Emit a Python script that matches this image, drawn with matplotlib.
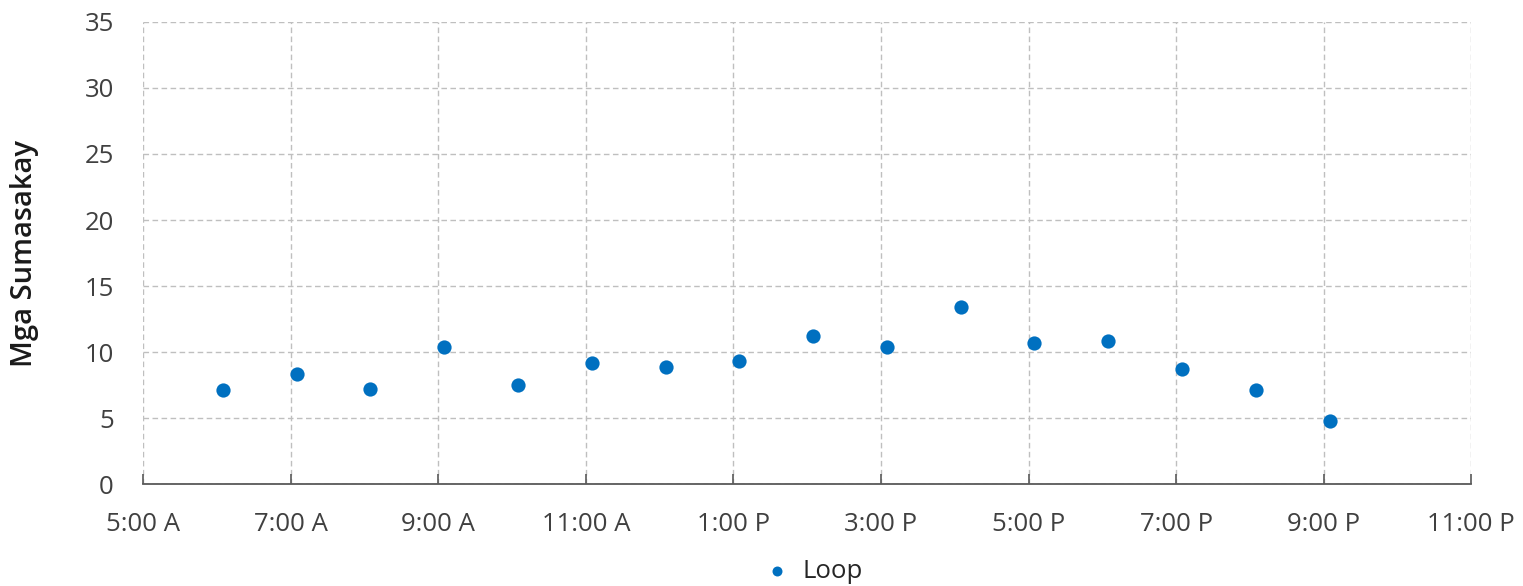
import matplotlib.pyplot as plt
import numpy as np

# --- Data ---
hours = [6.08, 7.08, 8.08, 9.08, 10.08, 11.08, 12.08, 13.08,
         14.08, 15.08, 16.08, 17.08, 18.08, 19.08, 20.08, 21.08]
riders = [7.1, 8.3, 7.2, 10.4, 7.5, 9.2, 8.9, 9.3,
          11.2, 10.4, 13.4, 10.7, 10.8, 8.7, 7.1, 4.8]
tick_hours = [5, 7, 9, 11, 13, 15, 17, 19, 21, 23]
tick_labels = ["5:00 A", "7:00 A", "9:00 A", "11:00 A", "1:00 P",
               "3:00 P", "5:00 P", "7:00 P", "9:00 P", "11:00 P"]
series_name = "Loop"

plt.rcParams["font.family"] = ["Open Sans", "DejaVu Sans"]

fig, ax = plt.subplots(figsize=(15.23, 5.86), dpi=100)
plt.subplots_adjust(left=0.094, right=0.966, top=0.9625, bottom=0.174)

ax.scatter(hours, riders, s=105, color="#0070C0", label=series_name, zorder=3,
           linewidths=0)

ax.set_xlim(5, 23)
ax.set_ylim(0, 35)
ax.set_xticks(tick_hours)
ax.set_xticklabels(tick_labels)
ax.set_yticks(np.arange(0, 36, 5))

# --- Grid ---
ax.grid(True, linestyle=(0, (4, 2.5)), color="#BFBFBF", linewidth=1.0)
ax.set_axisbelow(True)

for side in ["top", "right", "left"]:
    ax.spines[side].set_visible(False)
ax.spines["bottom"].set_color("#595959")
ax.spines["bottom"].set_linewidth(1.3)

ax.tick_params(axis="x", direction="in", length=7, width=1.2, color="#595959",
               labelsize=18.5, labelcolor="#404040", pad=20)
ax.tick_params(axis="y", length=0, labelsize=18.5, labelcolor="#404040", pad=21)

ax.set_ylabel("Mga Sumasakay", fontsize=21, fontweight="semibold",
              color="#1a1a1a", labelpad=33)

ax.legend(loc="upper center", bbox_to_anchor=(0.5, -0.128), frameon=False,
          fontsize=18.5, handletextpad=0.0, markerscale=0.7, labelcolor="#262626",
          borderaxespad=0.2)

fig.savefig("out.png", dpi=100)
